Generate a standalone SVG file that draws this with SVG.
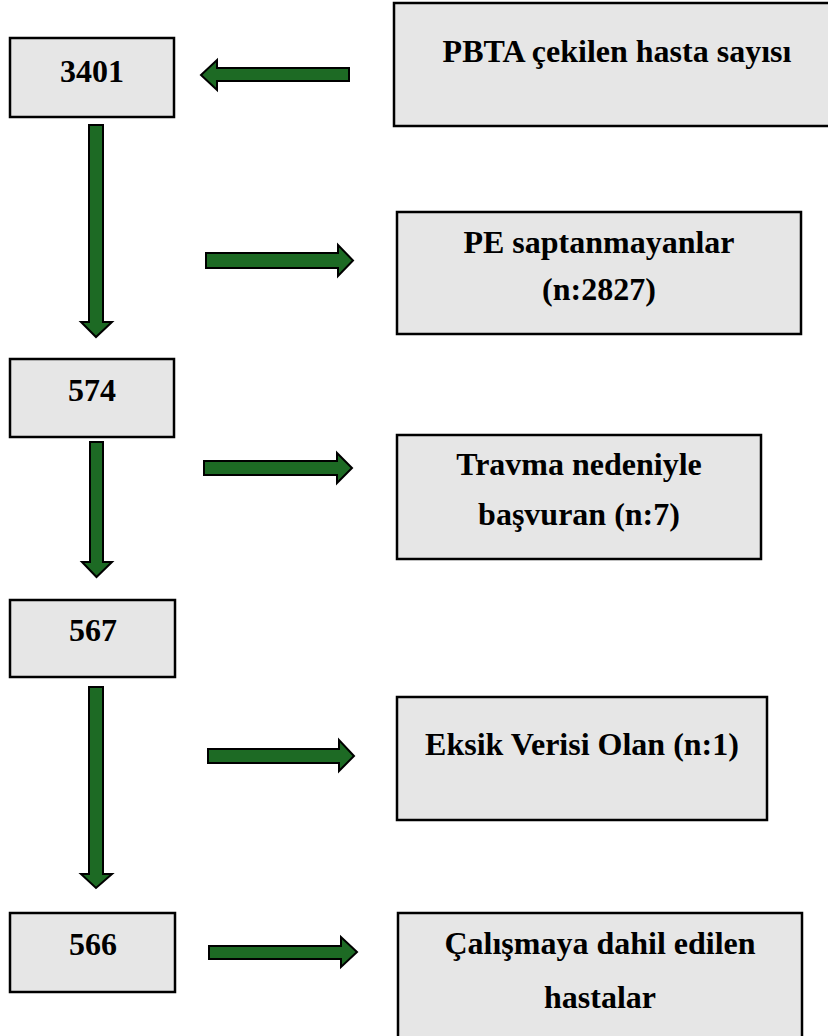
<svg xmlns="http://www.w3.org/2000/svg" width="828" height="1036" viewBox="0 0 828 1036">
<style>
.box{fill:#e6e6e6;stroke:#000;stroke-width:2.5}
.t{font-family:"Liberation Serif","Times New Roman",serif;font-weight:bold;font-size:32px;fill:#000;text-anchor:middle}
.arr{fill:#1d6a24;stroke:#000;stroke-width:2;stroke-linejoin:miter}
</style>
<rect width="828" height="1036" fill="#fff"/>
<g id="n3401"><rect class="box" x="10" y="38" width="164" height="79"/><text class="t" x="92" y="82">3401</text></g>
<g id="nPBTA"><rect class="box" x="394" y="3" width="446" height="123"/><text class="t" x="617" y="62">PBTA çekilen hasta sayısı</text></g>
<g id="nPE"><rect class="box" x="397" y="212" width="404" height="122"/><text class="t" x="599" y="253">PE saptanmayanlar</text><text class="t" x="599" y="300">(n:2827)</text></g>
<g id="n574"><rect class="box" x="10" y="359" width="164" height="78"/><text class="t" x="92" y="401">574</text></g>
<g id="nTravma"><rect class="box" x="397" y="435" width="364" height="124"/><text class="t" x="579" y="475">Travma nedeniyle</text><text class="t" x="579" y="525">başvuran (n:7)</text></g>
<g id="n567"><rect class="box" x="10" y="600" width="165" height="77"/><text class="t" x="93" y="641">567</text></g>
<g id="nEksik"><rect class="box" x="397" y="697" width="370" height="123"/><text class="t" x="582" y="755">Eksik Verisi Olan (n:1)</text></g>
<g id="n566"><rect class="box" x="10" y="913" width="165" height="79"/><text class="t" x="93" y="955">566</text></g>
<g id="nCalisma"><rect class="box" x="398" y="913" width="404" height="130"/><text class="t" x="600" y="954">Çalışmaya dahil edilen</text><text class="t" x="600" y="1008">hastalar</text></g>
<g id="connectors">
<path class="arr" d="M349,68 L217,68 L217,60 L201,75 L217,90 L217,81 L349,81 Z"/>
<path class="arr" d="M89,125 L103,125 L103,322 L112,322 L96,337 L81,322 L89,322 Z"/>
<path class="arr" d="M206,253 L338,253 L338,245 L353,260.5 L338,276 L338,268 L206,268 Z"/>
<path class="arr" d="M90,442 L103,442 L103,562 L112,562 L96.5,577 L82,562 L90,562 Z"/>
<path class="arr" d="M204,461 L337,461 L337,453 L352,468 L337,483 L337,475 L204,475 Z"/>
<path class="arr" d="M89,687 L103,687 L103,874 L112,874 L96,888 L81,874 L89,874 Z"/>
<path class="arr" d="M208,749 L339,749 L339,740 L354,756 L339,771 L339,763 L208,763 Z"/>
<path class="arr" d="M209,946 L341,946 L341,937 L357,952 L341,967 L341,959 L209,959 Z"/>
</g>
</svg>
